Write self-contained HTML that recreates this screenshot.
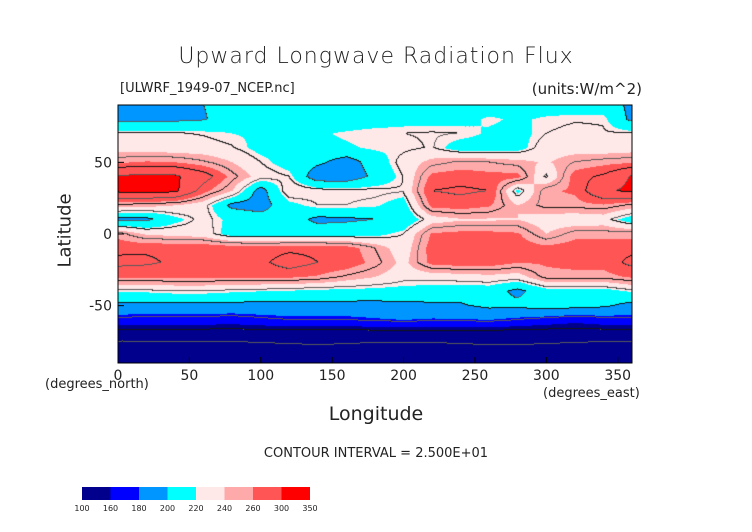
<!DOCTYPE html>
<html><head><meta charset="utf-8"><style>
body{margin:0;background:#fff;width:752px;height:532px;overflow:hidden;position:relative;font-family:"DejaVu Sans","Liberation Sans",sans-serif;color:#222}
.t{position:absolute;white-space:nowrap}
</style></head><body>
<div class="t" style="left:0;width:752px;text-align:center;top:44px;font-size:22px;font-weight:300;letter-spacing:1px">Upward Longwave Radiation Flux</div>
<div class="t" style="left:120px;top:81px;font-size:13px">[ULWRF_1949-07_NCEP.nc]</div>
<div class="t" style="right:110px;top:80px;font-size:15px">(units:W/m^2)</div>
<canvas id="map" width="514" height="258" style="position:absolute;left:118px;top:105px"></canvas>
<svg id="ax" width="752" height="532" style="position:absolute;left:0;top:0"></svg>
<div class="t" style="left:30px;top:222px;font-size:18px;transform:rotate(-90deg);transform-origin:center;width:70px;text-align:center">Latitude</div>
<div class="t" style="left:45px;top:377px;font-size:13px">(degrees_north)</div>
<div class="t" style="left:543px;top:386px;font-size:13px">(degrees_east)</div>
<div class="t" style="left:0;width:752px;text-align:center;top:403px;font-size:19px">Longitude</div>
<div class="t" style="left:0;width:752px;text-align:center;top:446px;font-size:13px">CONTOUR INTERVAL = 2.500E+01</div>
<script>
const lons=[0,20,40,60,80,100,120,140,160,180,200,220,240,260,280,300,320,340,360];
const lats=[90,80,70,60,50,40,30,20,10,0,-10,-20,-30,-40,-50,-60,-70,-80,-90];
const flux=[
[195,195,195,200,210,210,210,210,210,210,210,212,212,212,212,212,212,212,195],
[195,195,195,198,212,212,212,210,210,212,215,215,215,222,218,222,224,224,195],
[226,226,226,224,220,218,215,218,222,225,225,226,225,218,215,225,228,226,226],
[232,232,230,230,226,215,214,216,218,222,222,226,212,212,214,232,232,230,232],
[258,262,260,252,240,225,212,205,190,210,230,245,252,250,245,238,250,255,258],
[302,306,304,285,255,232,225,185,185,205,225,265,268,265,265,222,268,278,302],
[306,310,306,265,240,190,235,230,228,228,226,275,278,275,215,258,262,295,306],
[248,245,240,230,195,190,215,225,225,222,212,265,268,262,240,255,255,258,248],
[195,195,215,230,215,210,210,195,197,200,205,232,238,238,240,230,228,230,210],
[255,238,235,232,212,212,212,212,212,215,225,262,265,265,262,240,255,255,255],
[270,272,272,272,270,268,270,270,268,250,230,268,272,272,268,265,268,270,270],
[280,278,272,275,270,270,285,275,270,255,235,265,268,268,260,262,265,265,280],
[262,262,262,262,262,262,262,258,248,240,230,230,232,235,232,255,255,255,262],
[222,222,225,225,222,220,218,215,215,214,214,212,210,210,195,212,212,212,222],
[194,194,194,194,194,194,194,194,194,194,195,197,198,205,205,210,208,204,194],
[172,170,170,170,168,172,175,175,175,178,180,178,178,180,175,170,165,170,172],
[140,140,140,140,140,140,140,140,140,140,140,140,140,140,140,140,140,140,140],
[110,110,110,110,112,115,118,120,118,115,115,115,118,120,120,118,115,112,110],
[105,105,105,105,105,105,105,105,105,105,105,105,105,105,105,105,105,105,105]];
const levels=[100,160,180,200,220,240,260,300,350];
const cols=[[0,0,140],[0,0,255],[0,150,255],[0,255,255],[255,232,232],[255,170,170],[255,85,85],[255,0,0]];
const W=514,H=258;
function val(px,py){
  const lon=px/W*360, lat=90-py/H*180;
  let i=Math.min(lons.length-2,Math.floor(lon/20)), fx=(lon-lons[i])/20;
  let j=Math.min(lats.length-2,Math.floor((90-lat)/10)), fy=((90-lat)-(90-lats[j]))/10;
  const a=flux[j][i],b=flux[j][i+1],c=flux[j+1][i],d=flux[j+1][i+1];
  return a*(1-fx)*(1-fy)+b*fx*(1-fy)+c*(1-fx)*fy+d*fx*fy;
}
function colIdx(v){for(let k=levels.length-2;k>=0;k--)if(v>=levels[k])return k;return 0;}
const cv=document.getElementById('map'),ctx=cv.getContext('2d'),img=ctx.createImageData(W,H);
const V=[];for(let y=0;y<H;y++){V.push([]);for(let x=0;x<W;x++)V[y].push(val(x+0.5,y+0.5));}
for(let y=0;y<H;y++)for(let x=0;x<W;x++){
  const v=V[y][x];let c=cols[colIdx(v)];
  const b=Math.floor(v/25);
  if((x+1<W&&Math.floor(V[y][x+1]/25)!==b)||(y+1<H&&Math.floor(V[y+1][x]/25)!==b)){
    c=(b%2===0)?[20,20,20]:[90,90,90];
  }
  const o=(y*W+x)*4;img.data[o]=c[0];img.data[o+1]=c[1];img.data[o+2]=c[2];img.data[o+3]=255;}
ctx.putImageData(img,0,0);
const svg=document.getElementById('ax'),NS='http://www.w3.org/2000/svg';
const xTicks=[0,50,100,150,200,250,300,350],yTicks=[50,0,-50];
const X=l=>118+l/360*514,Y=l=>105+(90-l)/180*258;
function el(t,a,p){const e=document.createElementNS(NS,t);for(const k in a)e.setAttribute(k,a[k]);(p||svg).appendChild(e);return e;}
const fr=el('rect',{x:118,y:105,width:514,height:258,fill:'none',stroke:'#000','stroke-width':1});


xTicks.forEach(v=>{
  const l=el('line',{x1:X(v),x2:X(v),y1:363,y2:357,stroke:'#000'});
  
  
  const t=el('text',{x:X(v),y:380,'text-anchor':'middle','font-size':14,'font-family':'DejaVu Sans,sans-serif',fill:'#222'});
  t.textContent=v;
  
  
});
yTicks.forEach(v=>{
  const l=el('line',{x1:118,x2:124,y1:Y(v),y2:Y(v),stroke:'#000'});
  
  
  const t=el('text',{x:112,y:Y(v)+5,'text-anchor':'end','font-size':14,'font-family':'DejaVu Sans,sans-serif',fill:'#222'});
  t.textContent=v;
  
  
});
const cbW=228/8;
for(let k=0;k<8;k++){
  const r=el('rect',{x:82+k*cbW,y:487,width:cbW,height:13,fill:'rgb('+cols[k].join(',')+')'});
  
  
}
levels.forEach((v,k)=>{
  const t=el('text',{x:82+k*cbW,y:511,'text-anchor':'middle','font-size':8,'font-family':'DejaVu Sans,sans-serif',fill:'#222'});
  t.textContent=v;
  
  
});
</script>
</body></html>
